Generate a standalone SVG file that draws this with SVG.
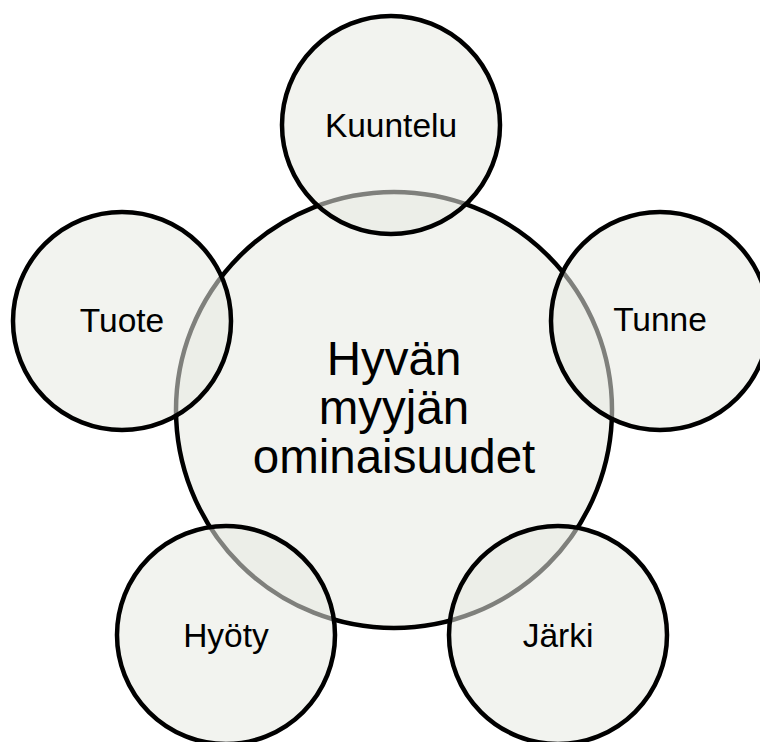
<svg xmlns="http://www.w3.org/2000/svg" width="760" height="742" viewBox="0 0 760 742">
<style>
.c{fill:#e8eae2;fill-opacity:0.55;stroke:#000;stroke-width:4.5}
.t{font-family:"Liberation Sans",Arial,sans-serif;fill:#000;text-anchor:middle}
.s{font-size:33.5px}
.b{font-size:47.5px}
</style>
<rect width="760" height="742" fill="#fff"/>
<g id="center">
<circle class="c" cx="394" cy="410" r="218"/>
<text class="t b" x="394" y="375">Hyvän</text>
<text class="t b" x="394" y="424">myyjän</text>
<text class="t b" x="394" y="473">ominaisuudet</text>
</g>
<g id="connectors"></g>
<g id="kuuntelu">
<circle class="c" cx="391" cy="125" r="109"/>
<text class="t s" x="391" y="137">Kuuntelu</text>
</g>
<g id="tunne">
<circle class="c" cx="660" cy="321" r="109"/>
<text class="t s" x="660" y="331">Tunne</text>
</g>
<g id="jarki">
<circle class="c" cx="558" cy="635" r="109"/>
<text class="t s" x="558" y="647">Järki</text>
</g>
<g id="hyoty">
<circle class="c" cx="226" cy="635" r="109"/>
<text class="t s" x="226" y="647">Hyöty</text>
</g>
<g id="tuote">
<circle class="c" cx="122" cy="321" r="109"/>
<text class="t s" x="122" y="332">Tuote</text>
</g>
</svg>
